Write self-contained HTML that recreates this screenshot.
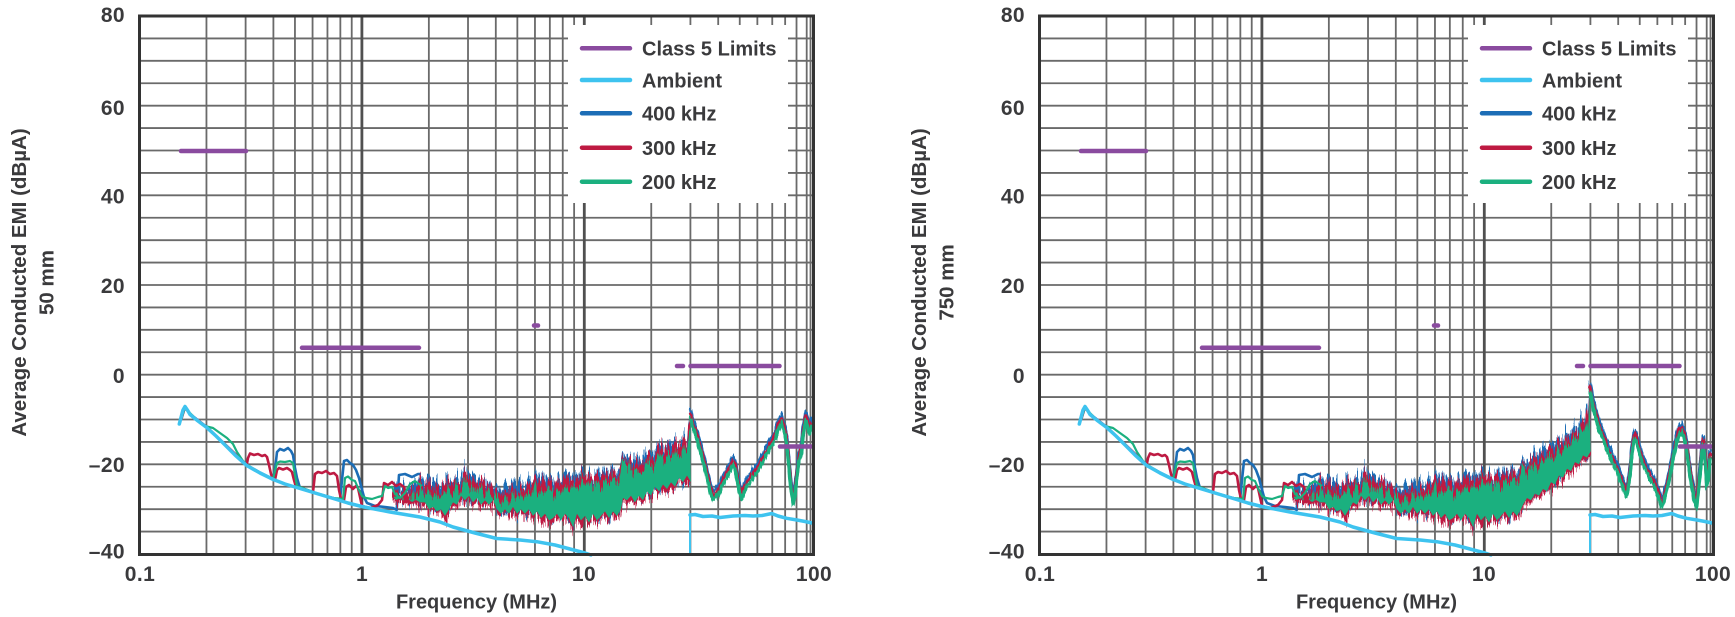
<!DOCTYPE html>
<html>
<head>
<meta charset="utf-8">
<style>
html,body{margin:0;padding:0;background:#fff;overflow:hidden;}
svg{display:block;}
text{font-family:"Liberation Sans",Arial,sans-serif;font-weight:bold;font-size:20px;fill:#3a3a3c;}
text.tk{font-size:21px;letter-spacing:0.4px;}
</style>
</head>
<body>
<svg width="1735" height="617" viewBox="0 0 1735 617" xmlns="http://www.w3.org/2000/svg">
<defs>
  <filter id="rA" x="-3%" y="-50%" width="106%" height="200%" color-interpolation-filters="sRGB">
    <feTurbulence type="fractalNoise" baseFrequency="0.75 0.03" numOctaves="2" seed="3" result="n"/>
    <feColorMatrix in="n" type="matrix" values="0 0 0 0 0.5  0 1 0 0 0  0 0 1 0 0  0 0 0 0 1" result="m"/>
    <feDisplacementMap in="SourceGraphic" in2="m" scale="30" xChannelSelector="R" yChannelSelector="G"/>
  </filter>
  <filter id="rB" x="-3%" y="-50%" width="106%" height="200%" color-interpolation-filters="sRGB">
    <feTurbulence type="fractalNoise" baseFrequency="0.75 0.03" numOctaves="2" seed="11" result="n"/>
    <feColorMatrix in="n" type="matrix" values="0 0 0 0 0.5  0 1 0 0 0  0 0 1 0 0  0 0 0 0 1" result="m"/>
    <feDisplacementMap in="SourceGraphic" in2="m" scale="28" xChannelSelector="R" yChannelSelector="G"/>
  </filter>
  <filter id="rC" x="-3%" y="-50%" width="106%" height="200%" color-interpolation-filters="sRGB">
    <feTurbulence type="fractalNoise" baseFrequency="0.7 0.03" numOctaves="2" seed="23" result="n"/>
    <feColorMatrix in="n" type="matrix" values="0 0 0 0 0.5  0 1 0 0 0  0 0 1 0 0  0 0 0 0 1" result="m"/>
    <feDisplacementMap in="SourceGraphic" in2="m" scale="24" xChannelSelector="R" yChannelSelector="G"/>
  </filter>
  <filter id="lA" x="-3%" y="-20%" width="106%" height="140%" color-interpolation-filters="sRGB">
    <feTurbulence type="fractalNoise" baseFrequency="0.6 0.05" numOctaves="2" seed="5" result="n"/>
    <feColorMatrix in="n" type="matrix" values="0 0 0 0 0.5  0 1 0 0 0  0 0 1 0 0  0 0 0 0 1" result="m"/>
    <feDisplacementMap in="SourceGraphic" in2="m" scale="10" xChannelSelector="R" yChannelSelector="G"/>
  </filter>
  <filter id="lB" x="-3%" y="-20%" width="106%" height="140%" color-interpolation-filters="sRGB">
    <feTurbulence type="fractalNoise" baseFrequency="0.6 0.05" numOctaves="2" seed="17" result="n"/>
    <feColorMatrix in="n" type="matrix" values="0 0 0 0 0.5  0 1 0 0 0  0 0 1 0 0  0 0 0 0 1" result="m"/>
    <feDisplacementMap in="SourceGraphic" in2="m" scale="8" xChannelSelector="R" yChannelSelector="G"/>
  </filter>

  <path id="grid" fill="none" stroke="#6a6a6a" stroke-width="1.8" d="
    M139.5,38.42H813.5 M139.5,60.83H813.5 M139.5,83.25H813.5 M139.5,105.67H813.5 M139.5,128.08H813.5
    M139.5,150.5H813.5 M139.5,172.92H813.5 M139.5,195.33H813.5 M139.5,217.75H813.5 M139.5,240.17H813.5
    M139.5,262.58H813.5 M139.5,285H813.5 M139.5,307.42H813.5 M139.5,329.83H813.5 M139.5,352.25H813.5
    M139.5,374.67H813.5 M139.5,397.08H813.5 M139.5,419.5H813.5 M139.5,441.92H813.5 M139.5,464.33H813.5
    M139.5,486.75H813.5 M139.5,509.17H813.5 M139.5,531.58H813.5
    M206.45,16V554.5 M245.61,16V554.5 M273.4,16V554.5 M294.95,16V554.5 M312.56,16V554.5 M327.45,16V554.5 M340.35,16V554.5 M351.72,16V554.5
    M428.85,16V554.5 M468.01,16V554.5 M495.8,16V554.5 M517.35,16V554.5 M534.96,16V554.5 M549.85,16V554.5 M562.75,16V554.5 M574.12,16V554.5
    M651.25,16V554.5 M690.41,16V554.5 M718.2,16V554.5 M739.75,16V554.5 M757.36,16V554.5 M772.25,16V554.5 M785.15,16V554.5 M796.52,16V554.5 M806.7,16V554.5 M810.5,16V554.5"/>
  <path id="gridDec" fill="none" stroke="#505050" stroke-width="2.8" d="M361.9,16V554.5 M584.3,16V554.5"/>

  <path id="bandL" d="M392,488 L396,484 400,490 404,485 408,489 412,483 416,487 420,473.3 L424,482.3 428,475.5 432,484.5 436,477.8 440,486.8 444,482.3 448,475.5 452,482.3 456,473.3 460,480 464,468.8 466,466.6 469,477.8 473,473.3 477,482.3 481,475.5 485,482.3 489,477.8 493,486.8 497,484.5 501,491.2 505,484.5 509,489 513,482.3 517,489 521,480 525,486.8 529,477.8 533,482.3 535,468.8 538,480 542,473.3 546,482.3 550,475.5 554,484.5 558,473.3 562,480 566,471.1 570,477.8 574,473.3 578,477.8 582,466.6 585,475.5 589,468.8 593,477.8 597,468.8 601,475.5 605,466.6 609,473.3 613,464.3 617,473.3 620,466.6 622,448.6 625,457.6 629,453.1 633,462.1 637,455.4 641,462.1 645,455.4 649,450.9 653,455.4 657,446.4 661,439.7 664,448.6 668,441.9 672,446.4 675,435.2 678,444.2 682,439.7 684,432.9 687,441.9 689,419.5 690.5,408.3 L691,482.3 687,475.5 683,482.3 679,477.8 675,486.8 671,482.3 667,489 663,484.5 659,491.2 655,486.8 651,495.7 647,491.2 643,500.2 639,495.7 635,502.4 631,495.7 627,500.2 623,498 621,509.2 617,515.9 613,511.4 609,518.1 605,511.4 601,515.9 597,520.4 593,513.7 589,522.6 585,515.9 581,520.4 577,513.7 573,527.1 569,518.1 565,513.7 561,520.4 557,513.7 553,518.1 549,520.4 545,513.7 541,518.1 537,511.4 533,515.9 529,509.2 525,513.7 521,509.2 517,513.7 513,506.9 509,513.7 505,509.2 501,513.7 497,509.2 493,500.2 489,504.7 485,500.2 481,504.7 477,498 473,502.4 469,495.7 465,500.2 461,495.7 457,504.7 453,502.4 449,509.2 445,515.9 441,509.2 437,511.4 433,506.9 429,509.2 425,502.4 420,502.4 416,500 412,502 408,499 404,501 400,498 396,500 392,496 Z"/>

  <path id="bandR" d="M392,488 L396,484 400,490 404,485 408,489 412,483 416,487 420,473.3 L424,482.3 428,475.5 432,484.5 436,477.8 440,486.8 444,482.3 448,475.5 452,482.3 456,473.3 460,480 464,468.8 466,466.6 469,477.8 473,473.3 477,482.3 481,475.5 485,482.3 489,477.8 493,486.8 497,484.5 501,491.2 505,484.5 509,489 513,482.3 517,489 521,480 525,486.8 529,477.8 533,482.3 535,468.8 538,480 542,473.3 546,482.3 550,475.5 554,484.5 558,473.3 562,480 566,471.1 570,477.8 574,473.3 578,477.8 582,466.6 585,475.5 589,468.8 593,477.8 597,468.8 601,475.5 605,466.6 609,473.3 613,464.3 617,473.3 620,466.6 622,455.4 626,464.3 630,457.6 634,450.9 638,457.6 642,446.4 646,450.9 650,441.9 654,446.4 658,435.2 662,441.9 666,431.7 670,435.2 674,424 678,428.5 681,417.3 684,421.7 686.7,406 688,415 689.5,381.8 L691,450.9 687,457.6 683,455.4 679,464.3 675,462.1 671,471.1 667,468.8 663,477.8 659,475.5 655,484.5 651,482.3 647,491.2 643,489 639,495.7 635,493.5 631,500.2 627,498 623,504.7 621,509.2 617,515.9 613,511.4 609,518.1 605,511.4 601,515.9 597,520.4 593,513.7 589,522.6 585,515.9 581,520.4 577,513.7 573,527.1 569,518.1 565,513.7 561,520.4 557,513.7 553,518.1 549,520.4 545,513.7 541,518.1 537,511.4 533,515.9 529,509.2 525,513.7 521,509.2 517,513.7 513,506.9 509,513.7 505,509.2 501,513.7 497,509.2 493,500.2 489,504.7 485,500.2 481,504.7 477,498 473,502.4 469,495.7 465,500.2 461,495.7 457,504.7 453,502.4 449,509.2 445,515.9 441,509.2 437,511.4 433,506.9 429,509.2 425,502.4 420,502.4 416,500 412,502 408,499 404,501 400,498 396,500 392,496 Z"/>

  <clipPath id="clipL"><use href="#bandL"/></clipPath>
  <clipPath id="clipR"><use href="#bandR"/></clipPath>

  <polyline id="hfL" fill="none" stroke-width="3.4" stroke-linejoin="round" points="690.5,412.8 692,421.7 694,426.2 697,435.2 700,446.4 703,457.6 706,468.8 708,477.8 710,486.8 713,495.7 716,493.5 718,491.2 721,484.5 724,477.8 728,471.1 731,464.3 733,460.8 735,464.3 737,475.5 739,486.8 741,494.8 743,491.2 746,483.2 749,480 753,473.3 757,468.8 760,463.4 763,457.6 767,450.9 770,444.2 773,439.7 776,432.9 778,426.2 780,421.7 781.7,418.6 783,424 785,430.7 787,441.9 789,464.3 791,486.8 793.3,500.2 795,491.2 797,473.3 799,457.6 801.7,446.4 803,432.9 804.5,424 806,415.9 808,424 810,430.7 812,421.7"/>
  <polyline id="hfR" fill="none" stroke-width="3.4" stroke-linejoin="round" points="689.5,385.9 691,392.6 693,403.8 696,415 700,428.5 703.3,435.2 707,446.4 710,453.1 713,459.85 716.7,466.6 720,475.5 723.3,484.5 726,493.5 728,486.8 730,471.1 732,450.9 734,437.4 735,434.3 737,439.7 738.3,446.4 742,457.6 746.7,468.8 750,475.5 753.3,480 757,489 760,498 761.7,503.3 764,498 766.7,486.8 770,471.1 773.3,455.4 776,441.9 778.3,432.9 780,428.5 781.7,427.6 784,432.9 786.7,446.4 789,464.3 791.7,482.3 794,495.7 796.7,503.8 798.5,486.8 800.7,464.3 802,446.4 803.3,440.1 805,455.4 806.7,482.3 808.5,473.3 810,455.4 812,453.1"/>

  <polyline id="lfB" fill="none" stroke="#1c6db6" stroke-width="2.6" stroke-linejoin="round" points="181,420 185,407 190,414 206.7,427 226.7,446 246.7,465 260,472.5 273,479 275,470 277,452 280,449 284,450.5 288,448 291,451 293,455 295,468 297,478 300,488 315,493 333,498 340,500 342,480 344,461 347,460 350,463 353,465 356,470 359,478 361,486 364,497 367,503 375,506 385,507 393,508 396.7,510 399,475 405,474 412,477 418,474 421,474"/>
  <polyline id="lfR" fill="none" stroke="#be1a42" stroke-width="2.6" stroke-linejoin="round" points="181,420 185,407 190,414 206.7,427 226.7,446 246.7,465 248,458 250,453.5 254,455 258,454 262,456 265,455 267,457 269,465 271,474 273,479.5 275,480 277,470 279,468 283,469.5 287,468 290,470 292,472 294,480 296,487 305,490 313,492 315,474 318,472 322,473 326,471 330,474 334,473 337,476 339,490 341,499 344,500 346,487 349,485 353,489 356,486 358,488 360,497 362,506 370,508 378,505 382,500 384,483 388,485 392,482 396,486 400,484 404,487 407,497 410,503 414,500 418,496 422,486"/>
  <polyline id="lfG" fill="none" stroke="#1bb07f" stroke-width="2.2" stroke-linejoin="round" points="181,420 185,407 190,413 200,423 206.7,426.5 213,428 220,433 227,438 233,444 237,452 243,461 247,465 260,472.5 273,479 277,463 280,461.5 285,462 290,461 293,463 295,475 297,486 315,492.5 333,498 343,499 345,478 348,476.5 352,480 355,481 358,488 362,496 366,498 372,499 378,497 382,496 385,486 388,488 392,487 395,494 400,498 405,493 410,484 415,481 422,486"/>

  <g id="amb" fill="none" stroke="#3ec3ef" stroke-linejoin="round" stroke-linecap="round">
    <polyline stroke-width="3.5" points="179.3,424 183,410 185,406.5 188,411 190,414.5 198,421 206.7,427.5 216,436 226.7,446.7 236,456 246.7,465.5 260,473 273.3,479.5 285,484 295,487 315,493 333.3,498.5 348,503 361.7,506.5 390,512 420,517 440,522 453,527 475,533 496.7,538.5 520,540 536.7,541.7 555,545 570,549 585,553 591,555"/>
    <line x1="690" y1="554" x2="690" y2="516" stroke-width="2" stroke-linecap="butt"/>
    <polyline stroke-width="3.5" points="690,515 695,514.5 703,516.5 712,516 720,517.5 733,516 745,515.5 753,516 762,515.5 771.7,513.5 778,516 786.7,518.3 797,520 805,521.5 812,523"/>
  </g>

  <g id="lim" stroke="#8a4b9f" stroke-width="4.5" stroke-linecap="round">
    <line x1="181" y1="151" x2="246" y2="151"/>
    <line x1="302" y1="347.8" x2="419" y2="347.8"/>
    <line x1="534" y1="325.5" x2="538" y2="325.5"/>
    <line x1="677" y1="366" x2="683" y2="366"/>
    <line x1="690.5" y1="366" x2="779.5" y2="366"/>
    <line x1="780" y1="446.5" x2="811" y2="446.5"/>
  </g>
</defs>

<rect x="0" y="0" width="1735" height="617" fill="#fff"/>

<!-- LEFT CHART -->
<g>
  <use href="#grid"/>
  <use href="#gridDec"/>
  <rect x="568" y="25" width="220" height="178" fill="#fff"/>

  <use href="#lfB"/>
  <use href="#bandL" fill="#1c6db6" filter="url(#rA)"/>
  <use href="#hfL" stroke="#1c6db6" transform="translate(0,-4)" filter="url(#lA)"/>

  <use href="#lfR"/>
  <use href="#bandL" fill="#be1a42" transform="translate(0,4)" filter="url(#rB)"/>
  <use href="#hfL" stroke="#be1a42" filter="url(#lB)"/>

  <use href="#lfG"/>
  <g clip-path="url(#clipL)"><use href="#bandL" fill="#1bb07f" transform="translate(0,12)" filter="url(#rC)"/></g>
  <use href="#hfL" stroke="#1bb07f" transform="translate(0,4)" filter="url(#lA)"/>

  <use href="#amb"/>
  <use href="#lim"/>

  <rect x="139.5" y="16" width="674" height="538.5" fill="none" stroke="#333" stroke-width="3"/>

  <g stroke-width="4.5" stroke-linecap="round">
    <line x1="582" y1="48.3" x2="630" y2="48.3" stroke="#8a4b9f"/>
    <line x1="582" y1="80" x2="630" y2="80" stroke="#3ec3ef"/>
    <line x1="582" y1="113.3" x2="630" y2="113.3" stroke="#1c6db6"/>
    <line x1="582" y1="147.7" x2="630" y2="147.7" stroke="#be1a42"/>
    <line x1="582" y1="181.7" x2="630" y2="181.7" stroke="#1bb07f"/>
  </g>
  <text x="642" y="55.6">Class 5 Limits</text>
  <text x="642" y="87.3">Ambient</text>
  <text x="642" y="120.6">400 kHz</text>
  <text x="642" y="155">300 kHz</text>
  <text x="642" y="189">200 kHz</text>

  <text class="tk" x="125" y="22" text-anchor="end">80</text>
  <text class="tk" x="125" y="115" text-anchor="end">60</text>
  <text class="tk" x="125" y="203.5" text-anchor="end">40</text>
  <text class="tk" x="125" y="293" text-anchor="end">20</text>
  <text class="tk" x="125" y="383" text-anchor="end">0</text>
  <text class="tk" x="125" y="472" text-anchor="end">–20</text>
  <text class="tk" x="125" y="558.5" text-anchor="end">–40</text>

  <text class="tk" x="140" y="581" text-anchor="middle">0.1</text>
  <text class="tk" x="362" y="581" text-anchor="middle">1</text>
  <text class="tk" x="584" y="581" text-anchor="middle">10</text>
  <text class="tk" x="814" y="581" text-anchor="middle">100</text>
  <text x="476.5" y="608.5" text-anchor="middle">Frequency (MHz)</text>

  <text transform="translate(26,282.5) rotate(-90)" text-anchor="middle" style="font-size:20.5px">Average Conducted EMI (dBµA)</text>
  <text transform="translate(53.3,282.5) rotate(-90)" text-anchor="middle" style="font-size:20.5px">50 mm</text>
</g>

<!-- RIGHT CHART -->
<g transform="translate(900,0)">
  <use href="#grid"/>
  <use href="#gridDec"/>
  <rect x="568" y="25" width="220" height="178" fill="#fff"/>

  <use href="#lfB"/>
  <use href="#bandR" fill="#1c6db6" filter="url(#rA)"/>
  <use href="#hfR" stroke="#1c6db6" transform="translate(0,-4)" filter="url(#lA)"/>

  <use href="#lfR"/>
  <use href="#bandR" fill="#be1a42" transform="translate(0,4)" filter="url(#rB)"/>
  <use href="#hfR" stroke="#be1a42" filter="url(#lB)"/>

  <use href="#lfG"/>
  <g clip-path="url(#clipR)"><use href="#bandR" fill="#1bb07f" transform="translate(0,12)" filter="url(#rC)"/></g>
  <use href="#hfR" stroke="#1bb07f" transform="translate(0,4)" filter="url(#lA)"/>

  <use href="#amb"/>
  <use href="#lim"/>

  <rect x="139.5" y="16" width="674" height="538.5" fill="none" stroke="#333" stroke-width="3"/>

  <g stroke-width="4.5" stroke-linecap="round">
    <line x1="582" y1="48.3" x2="630" y2="48.3" stroke="#8a4b9f"/>
    <line x1="582" y1="80" x2="630" y2="80" stroke="#3ec3ef"/>
    <line x1="582" y1="113.3" x2="630" y2="113.3" stroke="#1c6db6"/>
    <line x1="582" y1="147.7" x2="630" y2="147.7" stroke="#be1a42"/>
    <line x1="582" y1="181.7" x2="630" y2="181.7" stroke="#1bb07f"/>
  </g>
  <text x="642" y="55.6">Class 5 Limits</text>
  <text x="642" y="87.3">Ambient</text>
  <text x="642" y="120.6">400 kHz</text>
  <text x="642" y="155">300 kHz</text>
  <text x="642" y="189">200 kHz</text>

  <text class="tk" x="125" y="22" text-anchor="end">80</text>
  <text class="tk" x="125" y="115" text-anchor="end">60</text>
  <text class="tk" x="125" y="203.5" text-anchor="end">40</text>
  <text class="tk" x="125" y="293" text-anchor="end">20</text>
  <text class="tk" x="125" y="383" text-anchor="end">0</text>
  <text class="tk" x="125" y="472" text-anchor="end">–20</text>
  <text class="tk" x="125" y="558.5" text-anchor="end">–40</text>

  <text class="tk" x="140" y="581" text-anchor="middle">0.1</text>
  <text class="tk" x="362" y="581" text-anchor="middle">1</text>
  <text class="tk" x="584" y="581" text-anchor="middle">10</text>
  <text class="tk" x="813" y="581" text-anchor="middle">100</text>
  <text x="476.5" y="608.5" text-anchor="middle">Frequency (MHz)</text>

  <text transform="translate(26,282.5) rotate(-90)" text-anchor="middle" style="font-size:20.5px">Average Conducted EMI (dBµA)</text>
  <text transform="translate(53.3,282.5) rotate(-90)" text-anchor="middle" style="font-size:20.5px">750 mm</text>
</g>
</svg>
</body>
</html>
